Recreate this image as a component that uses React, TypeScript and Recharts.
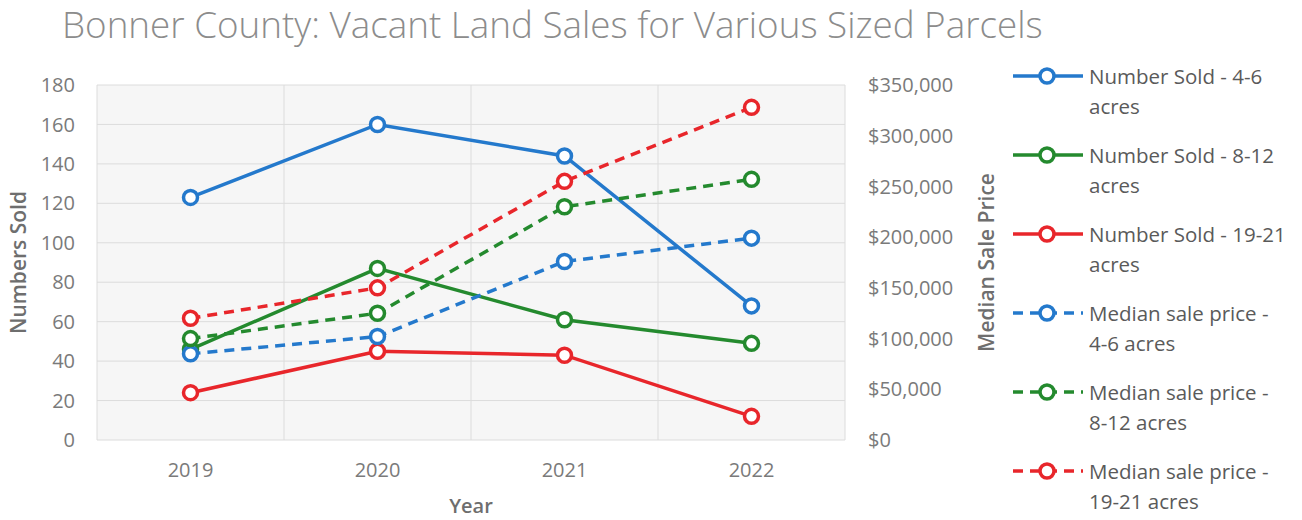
import React from "react";
import {
  ComposedChart,
  Line,
  XAxis,
  YAxis,
  CartesianGrid,
} from "recharts";

const years = ["2019", "2020", "2021", "2022"];
const soldSmall = [123, 160, 144, 68];
const soldMedium = [46, 87, 61, 49];
const soldLarge = [24, 45, 43, 12];
const priceSmall = [85000, 102000, 176000, 199000];
const priceMedium = [100000, 125000, 230000, 257000];
const priceLarge = [120000, 150000, 255000, 328000];
const soldTicks = [0, 20, 40, 60, 80, 100, 120, 140, 160, 180];
const priceTicks = [0, 50000, 100000, 150000, 200000, 250000, 300000, 350000];

const BLUE = "#2479cc";
const GREEN = "#248a2e";
const RED = "#e8262b";
const FONT = "'Open Sans', sans-serif";

const series = [
  { key: "soldSmall", axis: "left", color: BLUE, dashed: false, lines: ["Number Sold - 4-6", "acres"] },
  { key: "soldMedium", axis: "left", color: GREEN, dashed: false, lines: ["Number Sold - 8-12", "acres"] },
  { key: "soldLarge", axis: "left", color: RED, dashed: false, lines: ["Number Sold - 19-21", "acres"] },
  { key: "priceSmall", axis: "right", color: BLUE, dashed: true, lines: ["Median sale price -", "4-6 acres"] },
  { key: "priceMedium", axis: "right", color: GREEN, dashed: true, lines: ["Median sale price -", "8-12 acres"] },
  { key: "priceLarge", axis: "right", color: RED, dashed: true, lines: ["Median sale price -", "19-21 acres"] },
];

const data = years.map((year, i) => ({
  year,
  soldSmall: soldSmall[i],
  soldMedium: soldMedium[i],
  soldLarge: soldLarge[i],
  priceSmall: priceSmall[i],
  priceMedium: priceMedium[i],
  priceLarge: priceLarge[i],
}));

const money = (v: number) => "$" + v.toLocaleString("en-US");

const tickStyle = { fill: "#7a7a7a", fontSize: 20, fontFamily: FONT };
const titleStyle = { textAnchor: "middle", fill: "#6e6e6e", fontSize: 21, fontWeight: 600, fontFamily: FONT };

// legend drawn next to the chart, same look as excel's
const LegendBox = () => (
  <div
    style={{
      position: "absolute",
      left: 1012,
      top: 61,
      fontFamily: FONT,
      fontSize: 20.5,
      color: "#5a5a5a",
    }}
  >
    {series.map((s) => (
      <div key={s.key} style={{ display: "flex", height: 79, lineHeight: "30px" }}>
        <svg width={77} height={30} style={{ flex: "none" }}>
          <line
            x1={1}
            x2={71}
            y1={15}
            y2={15}
            stroke={s.color}
            strokeWidth={3.5}
            strokeDasharray={s.dashed ? "10 7" : undefined}
          />
          <circle cx={35} cy={15} r={7} fill="#fff" stroke={s.color} strokeWidth={3.5} />
        </svg>
        <div style={{ whiteSpace: "nowrap" }}>
          {s.lines.map((l) => (
            <div key={l}>{l}</div>
          ))}
        </div>
      </div>
    ))}
  </div>
);

export default function App() {
  return (
    <div
      style={{
        position: "absolute",
        left: 0,
        top: 0,
        width: 1302,
        height: 520,
        background: "#fff",
        overflow: "hidden",
      }}
    >
      <div
        style={{
          position: "absolute",
          left: 62,
          top: 6,
          fontFamily: FONT,
          fontWeight: 300,
          fontSize: 36.8,
          lineHeight: 1,
          color: "#8c8c8c",
          whiteSpace: "nowrap",
        }}
      >
        Bonner County: Vacant Land Sales for Various Sized Parcels
      </div>
      <ComposedChart
        width={1302}
        height={520}
        data={data}
        margin={{ top: 85, right: 302, bottom: 0, left: 37 }}
      >
        <CartesianGrid
          stroke="#dcdcdc"
          fill="#f6f6f6"
          verticalCoordinatesGenerator={({ offset }: any) =>
            years
              .map((_, i) => offset.left + (offset.width * i) / years.length)
              .concat(offset.left + offset.width)
          }
          yAxisId="left"
        />
        <XAxis
          dataKey="year"
          scale="band"
          height={80}
          axisLine={false}
          tickLine={false}
          tickSize={0}
          tickMargin={23}
          tick={tickStyle}
          label={{ value: "Year", position: "insideBottom", offset: 7, style: { ...titleStyle, fontSize: 20 } }}
        />
        <YAxis
          yAxisId="left"
          width={60}
          domain={[0, 180]}
          ticks={soldTicks}
          axisLine={false}
          tickLine={false}
          tickSize={0}
          tickMargin={22}
          tick={tickStyle}
          label={{ value: "Numbers Sold", angle: -90, position: "insideLeft", offset: -18, style: titleStyle }}
        />
        <YAxis
          yAxisId="right"
          orientation="right"
          width={155}
          domain={[0, 350000]}
          ticks={priceTicks}
          tickFormatter={money}
          axisLine={false}
          tickLine={false}
          tickSize={0}
          tickMargin={23}
          tick={tickStyle}
          label={{ value: "Median Sale Price", angle: -90, position: "insideRight", offset: 13, style: titleStyle }}
        />
        {series.map((s) => (
          <Line
            key={s.key}
            yAxisId={s.axis}
            dataKey={s.key}
            stroke={s.color}
            strokeWidth={3.5}
            strokeDasharray={s.dashed ? "10 7" : undefined}
            dot={{ r: 7, fill: "#fff", stroke: s.color, strokeWidth: 3.5, strokeDasharray: "none" }}
            activeDot={false}
            isAnimationActive={false}
          />
        ))}
      </ComposedChart>
      <LegendBox />
    </div>
  );
}
